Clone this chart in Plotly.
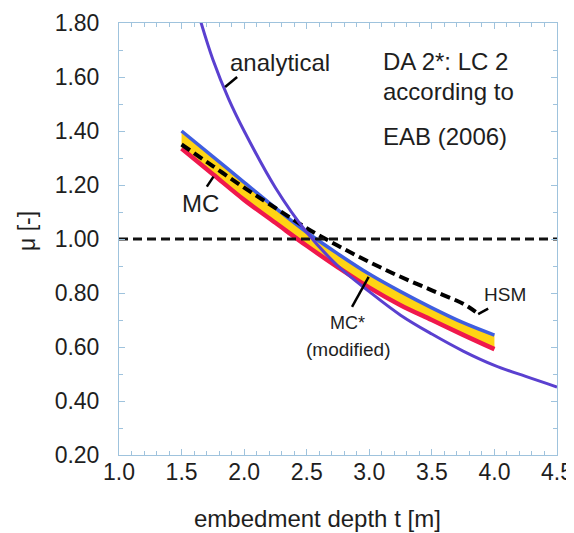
import plotly.graph_objects as go

# ---- data ----
t_analytical = [1.65, 1.75, 1.875, 2.0, 2.25, 2.5, 2.75, 3.0, 3.25, 3.5, 3.75, 4.0, 4.25, 4.5]
mu_analytical = [1.81, 1.665, 1.52, 1.40, 1.19, 1.025, 0.90, 0.805, 0.718, 0.648, 0.585, 0.532, 0.491, 0.452]

t_mc = [1.5, 1.75, 2.0, 2.25, 2.5, 2.75, 3.0, 3.25, 3.5, 3.75, 4.0]
mu_mc_upper = [1.40, 1.305, 1.21, 1.115, 1.025, 0.945, 0.87, 0.805, 0.745, 0.69, 0.644]
mu_mc_lower = [1.335, 1.24, 1.145, 1.06, 0.975, 0.895, 0.82, 0.755, 0.70, 0.645, 0.592]

t_hsm = [1.5, 1.75, 2.0, 2.25, 2.5, 2.75, 3.0, 3.25, 3.5, 3.75, 3.85]
mu_hsm = [1.35, 1.27, 1.19, 1.115, 1.04, 0.975, 0.915, 0.86, 0.81, 0.76, 0.73]

t_ref = [1.0, 4.5]
mu_ref = [1.0, 1.0]

x_ticks = [1.0, 1.5, 2.0, 2.5, 3.0, 3.5, 4.0, 4.5]
y_ticks = [0.2, 0.4, 0.6, 0.8, 1.0, 1.2, 1.4, 1.6, 1.8]

FONT = "Liberation Sans, Arial, sans-serif"
TXT = "#1e1e1e"
AXIS_COL = "#9fc3dd"
PURPLE = "#5a40d0"
BLUE = "#3f5ee0"
RED = "#f0184c"
YELLOW = "#ffd414"

fig = go.Figure()

# yellow band between MC curves
fig.add_trace(go.Scatter(x=t_mc, y=mu_mc_upper, mode="lines", line=dict(width=0, shape="spline"),
                         showlegend=False, hoverinfo="skip"))
fig.add_trace(go.Scatter(x=t_mc, y=mu_mc_lower, mode="lines", line=dict(width=0, shape="spline"),
                         fill="tonexty", fillcolor=YELLOW, showlegend=False, hoverinfo="skip"))
# red (lower) and blue (upper) boundary lines
fig.add_trace(go.Scatter(x=t_mc, y=mu_mc_lower, mode="lines",
                         line=dict(color=RED, width=4.5, shape="spline"), showlegend=False))
fig.add_trace(go.Scatter(x=t_mc, y=mu_mc_upper, mode="lines",
                         line=dict(color=BLUE, width=3.5, shape="spline"), showlegend=False))
# HSM dashed
fig.add_trace(go.Scatter(x=t_hsm, y=mu_hsm, mode="lines",
                         line=dict(color="black", width=4, dash="10px,5px", shape="spline"),
                         showlegend=False))
# mu = 1.0 reference
fig.add_trace(go.Scatter(x=t_ref, y=mu_ref, mode="lines",
                         line=dict(color="#111111", width=3, dash="9px,5px"), showlegend=False))
# analytical
fig.add_trace(go.Scatter(x=t_analytical, y=mu_analytical, mode="lines",
                         line=dict(color=PURPLE, width=3, shape="spline"), showlegend=False))

# leader lines
leaders = [
    (1.848, 1.563, 1.944, 1.600),   # analytical
    (1.755, 1.231, 1.702, 1.194),   # MC
    (2.995, 0.860, 2.862, 0.749),   # MC*
    (3.87, 0.722, 3.95, 0.742),     # HSM
]
for x0, y0, x1, y1 in leaders:
    fig.add_shape(type="line", xref="x", yref="y", x0=x0, y0=y0, x1=x1, y1=y1,
                  line=dict(color="black", width=2.5))

def label(text, x, y, size, xanchor="center"):
    fig.add_annotation(text=text, x=x, y=y, xref="x", yref="y", showarrow=False,
                       xanchor=xanchor, yanchor="middle",
                       font=dict(family=FONT, size=size, color=TXT))

label("analytical", 2.288, 1.652, 24)
label("DA 2*: LC 2", 3.096, 1.659, 24, "left")
label("according to", 3.096, 1.548, 24, "left")
label("EAB (2006)", 3.096, 1.378, 24, "left")
label("MC", 1.648, 1.130, 24)
label("HSM", 4.088, 0.793, 19)
label("MC*", 2.824, 0.689, 18)
label("(modified)", 2.832, 0.589, 19)

# axis titles placed as annotations to match the reference offsets
fig.add_annotation(text="embedment depth t [m]", xref="paper", yref="paper", x=0.454, y=0,
                   yshift=-63, xanchor="center", yanchor="middle", showarrow=False,
                   font=dict(family=FONT, size=24, color=TXT))
fig.add_annotation(text="μ [-]", xref="paper", yref="paper", x=0, y=0.5185, xshift=-92,
                   xanchor="center", yanchor="middle", textangle=-90, showarrow=False,
                   font=dict(family=FONT, size=23, color=TXT))

axis_common = dict(showline=True, linecolor=AXIS_COL, linewidth=1, mirror="allticks",
                   ticks="inside", ticklen=6, tickcolor=AXIS_COL, showgrid=False, zeroline=False,
                   automargin=False,
                   tickfont=dict(family=FONT, size=23, color=TXT))

fig.update_xaxes(range=[1.0, 4.5], tickvals=x_ticks, tickformat=".1f",
                 minor=dict(dtick=0.1, tick0=1.0, ticks="inside", ticklen=4, tickcolor=AXIS_COL),
                 ticklabelstandoff=-4,
                 **axis_common)
fig.update_yaxes(range=[0.2, 1.8], tickvals=y_ticks, tickformat=".2f",
                 minor=dict(dtick=0.1, tick0=0.2, ticks="inside", ticklen=4, tickcolor=AXIS_COL),
                 ticklabelstandoff=14,
                 **axis_common)

# the page body adds an 8px offset; size the figure so the plot area lands where the reference has it
fig.update_layout(width=566, height=525, margin=dict(l=111, r=17, t=15, b=78),
                  plot_bgcolor="white", paper_bgcolor="white", showlegend=False)

fig.write_html("out.html")
